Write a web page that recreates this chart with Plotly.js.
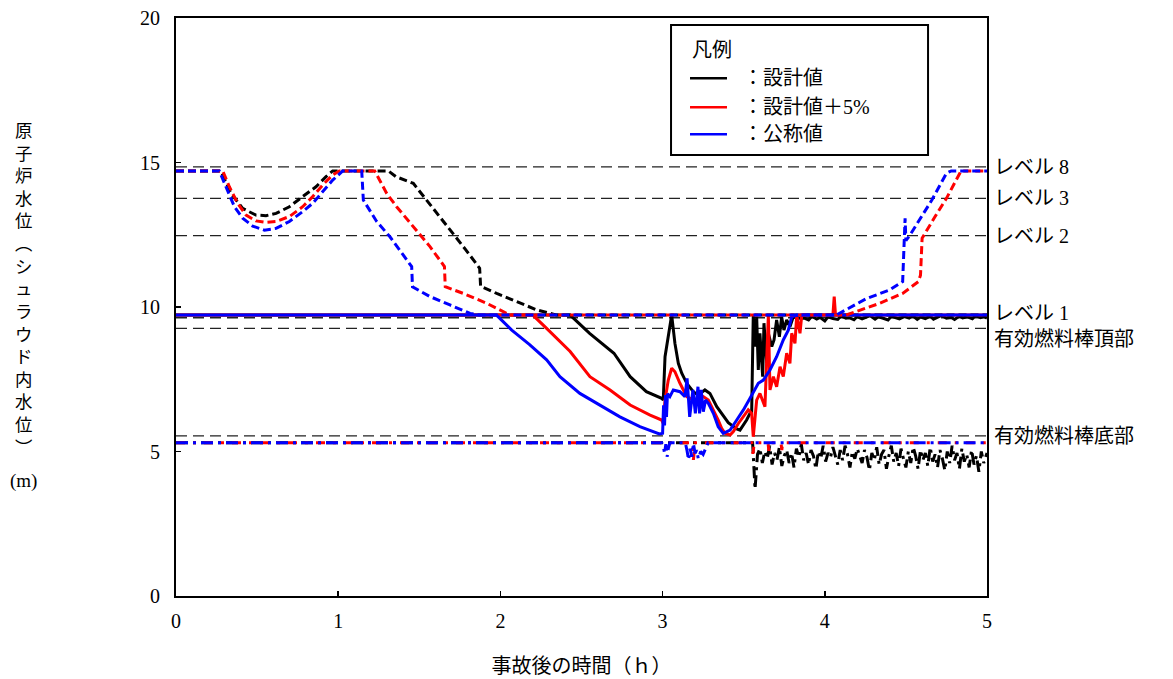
<!DOCTYPE html>
<html>
<head>
<meta charset="utf-8">
<script src="https://cdn.plot.ly/plotly-3.0.1.min.js"></script>
<style>
html, body { margin: 0; padding: 0; background: #ffffff; }
#chart { width: 1173px; height: 679px; }
</style>
</head>
<body>
<div id="chart"></div>
<script>
// ---- Case names and colours ----
const caseNames = ["：設計値", "：設計値＋5%", "：公称値"];
const caseColors = ["#000000", "#ff0000", "#0000ff"];

// ---- Shroud water level (solid lines), time in h, level in m ----
const designShroudT = [0, 2.43, 2.55, 2.70, 2.80, 2.90, 2.994, 3.004, 3.015, 3.056,
  3.076, 3.097, 3.118, 3.149, 3.189, 3.22, 3.261, 3.292, 3.334, 3.374,
  3.405, 3.457, 3.477, 3.518, 3.539, 3.549, 3.555, 3.559, 3.570, 3.580,
  3.590, 3.600, 3.617, 3.625, 3.642, 3.652, 3.673, 3.687, 3.703, 3.720,
  3.734, 3.748, 3.765, 3.785, 3.806, 3.847, 3.87, 3.90, 3.92, 3.95,
  3.97, 4.00, 4.02, 4.05, 4.08, 4.10, 4.13, 4.15, 4.18, 4.20,
  4.23, 4.26, 4.28, 4.31, 4.33, 4.36, 4.39, 4.41, 4.44, 4.46,
  4.49, 4.52, 4.54, 4.57, 4.59, 4.62, 4.65, 4.67, 4.70, 4.72,
  4.75, 4.78, 4.80, 4.83, 4.85, 4.88, 4.91, 4.93, 4.96, 4.98, 5.00];
const designShroudV = [9.72, 9.72, 9.09, 8.40, 7.59, 7.07, 6.84, 6.78, 8.28, 9.72,
  8.74, 8.05, 7.71, 7.36, 7.07, 6.95, 7.13, 7.01, 6.55, 6.26,
  6.00, 5.78, 5.74, 6.09, 6.32, 6.32, 8.17, 9.72, 8.63, 9.66,
  7.82, 9.09, 7.59, 9.44, 8.05, 9.09, 8.63, 8.86, 9.55, 8.97,
  9.66, 9.20, 9.55, 9.32, 9.66, 9.61, 9.62, 9.55, 9.68, 9.58,
  9.64, 9.52, 9.66, 9.60, 9.57, 9.69, 9.61, 9.63, 9.56, 9.67,
  9.59, 9.64, 9.70, 9.58, 9.66, 9.61, 9.55, 9.68, 9.63, 9.59,
  9.67, 9.62, 9.70, 9.57, 9.65, 9.60, 9.68, 9.58, 9.66, 9.71,
  9.61, 9.64, 9.57, 9.69, 9.62, 9.66, 9.59, 9.70, 9.63, 9.67, 9.61];

const design5ShroudT = [0, 2.20, 2.296, 2.43, 2.552, 2.676, 2.80, 2.923, 2.994, 3.004,
  3.015, 3.035, 3.056, 3.076, 3.107, 3.149, 3.189, 3.251, 3.282, 3.313,
  3.343, 3.364, 3.385, 3.416, 3.436, 3.467, 3.498, 3.528, 3.549, 3.559,
  3.580, 3.600, 3.631, 3.652, 3.662, 3.683, 3.703, 3.724, 3.744, 3.765,
  3.785, 3.796, 3.816, 3.827, 3.847, 3.858, 4.050, 4.058, 4.066, 5.00];
const design5ShroudV = [9.72, 9.72, 9.20, 8.46, 7.59, 7.13, 6.61, 6.26, 6.09, 5.97,
  6.78, 7.47, 7.88, 7.76, 7.36, 6.90, 6.78, 6.90, 6.78, 6.44,
  6.09, 5.80, 5.63, 5.57, 5.69, 5.97, 6.20, 6.44, 6.32, 5.51,
  6.78, 7.01, 6.55, 9.72, 7.13, 7.59, 7.24, 7.93, 7.59, 8.40,
  8.05, 9.09, 8.74, 9.72, 9.09, 9.72, 9.72, 10.36, 9.72, 9.72];

const nominalShroudT = [0, 1.976, 2.07, 2.18, 2.285, 2.367, 2.49, 2.614, 2.737, 2.86,
  2.98, 3.0, 3.006, 3.012, 3.018, 3.024, 3.03, 3.045, 3.066, 3.107,
  3.138, 3.151, 3.167, 3.187, 3.202, 3.218, 3.228, 3.238, 3.251, 3.265,
  3.282, 3.313, 3.343, 3.374, 3.416, 3.457, 3.498, 3.539, 3.59, 3.621,
  3.662, 3.703, 3.744, 3.775, 3.796, 3.83, 5.0];
const nominalShroudV = [9.72, 9.72, 9.20, 8.70, 8.17, 7.59, 7.01, 6.61, 6.20, 5.86,
  5.61, 5.63, 6.60, 5.90, 6.95, 6.20, 7.00, 6.90, 7.13, 7.07,
  6.90, 7.53, 6.20, 7.13, 6.32, 7.24, 6.32, 7.13, 6.38, 6.78,
  6.67, 6.32, 5.86, 5.63, 5.74, 6.09, 6.44, 6.84, 7.36, 7.47,
  7.82, 8.28, 8.86, 9.20, 9.66, 9.72, 9.72];

// ---- Reactor water level (dashed lines) ----
const designWideT = [0, 0.277, 0.339, 0.411, 0.493, 0.555, 0.617, 0.699, 0.781, 0.863,
  0.925, 0.966, 1.309, 1.356, 1.463, 1.546, 1.623, 1.72, 1.788, 1.872,
  1.878, 1.977, 2.10, 2.224, 2.347, 5.0];
const designWideV = [14.71, 14.71, 13.93, 13.41, 13.18, 13.16, 13.24, 13.47, 13.82, 14.16,
  14.51, 14.71, 14.71, 14.51, 14.28, 13.70, 13.13, 12.47, 11.97, 11.34,
  10.72, 10.47, 10.19, 9.90, 9.72, 9.72];

const design5WideT = [0, 0.288, 0.329, 0.380, 0.432, 0.493, 0.555, 0.617, 0.699, 0.781,
  0.843, 0.904, 0.966, 1.007, 1.225, 1.299, 1.36, 1.484, 1.566, 1.655,
  1.66, 1.771, 1.915, 2.039, 2.07, 4.13, 4.217, 4.34, 4.48, 4.577,
  4.59, 4.60, 4.68, 4.75, 4.84, 5.0];
const design5WideV = [14.71, 14.71, 14.16, 13.59, 13.18, 12.98, 12.93, 12.96, 13.13, 13.47,
  13.82, 14.22, 14.57, 14.71, 14.71, 13.93, 13.47, 12.66, 12.09, 11.40,
  10.70, 10.47, 10.13, 9.78, 9.72, 9.72, 9.90, 10.13, 10.47, 10.88,
  11.10, 12.38, 13.13, 13.76, 14.71, 14.71];

const nominalWideT = [0, 0.267, 0.308, 0.360, 0.411, 0.473, 0.545, 0.617, 0.699, 0.781,
  0.843, 0.904, 0.966, 1.028, 1.145, 1.155, 1.237, 1.319, 1.391, 1.453,
  1.458, 1.566, 1.689, 1.813, 1.87, 4.07, 4.26, 4.40, 4.48, 4.49,
  4.495, 4.50, 4.525, 4.66, 4.75, 4.78, 5.0];
const nominalWideV = [14.71, 14.71, 14.16, 13.47, 13.07, 12.80, 12.66, 12.72, 12.96, 13.30,
  13.59, 13.99, 14.39, 14.71, 14.71, 13.70, 12.96, 12.43, 11.86, 11.40,
  10.70, 10.36, 10.07, 9.78, 9.72, 9.72, 10.30, 10.59, 10.88, 12.43,
  13.07, 12.30, 12.49, 13.70, 14.63, 14.71, 14.71];

// ---- Lower-range level (dash-dot lines) ----
const designLowerT = [0, 3.54, 3.555, 3.57, 3.585, 3.60, 3.615, 3.63, 3.645, 3.66,
  3.675, 3.69, 3.705, 3.72, 3.735, 3.75, 3.765, 3.78, 3.795, 3.81,
  3.825, 3.84, 3.855, 3.87, 3.885, 3.90, 3.915, 3.93, 3.945, 3.96,
  3.975, 3.99, 4.005, 4.02, 4.035, 4.05, 4.065, 4.08, 4.095, 4.11,
  4.125, 4.14, 4.155, 4.17, 4.185, 4.20, 4.215, 4.23, 4.245, 4.26,
  4.275, 4.29, 4.305, 4.32, 4.335, 4.35, 4.365, 4.38, 4.395, 4.41,
  4.425, 4.44, 4.455, 4.47, 4.485, 4.50, 4.515, 4.53, 4.545, 4.56,
  4.575, 4.59, 4.605, 4.62, 4.635, 4.65, 4.665, 4.68, 4.695, 4.71,
  4.725, 4.74, 4.755, 4.77, 4.785, 4.80, 4.815, 4.83, 4.845, 4.86,
  4.875, 4.89, 4.905, 4.92, 4.935, 4.95, 4.965, 4.98, 5.0];
const designLowerV = [5.30, 5.30, 5.30, 3.70, 4.90, 5.10, 4.60, 5.00, 4.75, 5.20,
  4.55, 4.95, 4.70, 5.15, 4.50, 4.85, 5.05, 4.60, 4.95, 4.45,
  5.10, 4.80, 5.25, 4.70, 4.95, 4.55, 5.05, 4.85, 4.40, 5.00,
  4.75, 5.20, 4.65, 4.95, 4.80, 5.15, 4.85, 4.55, 5.05, 4.70,
  5.20, 4.90, 4.45, 5.00, 4.75, 5.10, 4.85, 4.60, 5.05, 4.80,
  4.35, 4.95, 4.70, 5.15, 4.55, 4.90, 5.05, 4.40, 4.85, 5.20,
  4.65, 4.95, 4.50, 5.10, 4.75, 4.45, 5.00, 4.60, 5.15, 4.85,
  4.40, 5.05, 4.70, 4.95, 4.50, 5.15, 4.65, 4.90, 4.45, 5.05,
  4.75, 4.35, 5.00, 4.60, 5.20, 4.70, 4.95, 4.40, 5.10, 4.65,
  4.90, 4.45, 5.05, 4.55, 4.85, 4.30, 5.00, 4.60, 4.95];

const design5LowerT = [0, 3.18, 3.19, 3.20, 3.55, 3.557, 3.565, 3.65, 3.655, 3.66,
  3.73, 3.735, 3.74, 5.0];
const design5LowerV = [5.30, 5.30, 4.71, 5.30, 5.30, 4.92, 5.30, 5.30, 5.02, 5.30,
  5.30, 5.05, 5.30, 5.30];

const nominalLowerT = [0, 2.995, 3.005, 3.012, 3.02, 3.028, 3.035, 3.045, 3.06, 3.14,
  3.15, 3.16, 3.17, 3.18, 3.19, 3.20, 3.21, 3.22, 3.235, 3.25,
  3.265, 3.28, 5.0];
const nominalLowerV = [5.30, 5.30, 5.17, 4.94, 5.25, 4.82, 5.10, 5.30, 5.30, 5.30,
  5.05, 4.71, 5.10, 4.82, 5.28, 4.94, 5.05, 4.75, 5.00, 4.90,
  5.10, 5.30, 5.30];

// ---- Reference levels ----
const levelValues = [14.85, 13.76, 12.47, 9.63, 9.26, 5.54];
const levelLabels = ["レベル 8", "レベル 3", "レベル 2", "レベル 1", "有効燃料棒頂部", "有効燃料棒底部"];
const levelLabelShift = [0, 0, 0, 5, -11, 0];

// ---- Axis ticks and titles ----
const xTickVals = [0, 1, 2, 3, 4, 5];
const yTickVals = [0, 5, 10, 15, 20];
const xTitle = "事故後の時間（ｈ）";
const yTitle = "原子炉水位︵シュラウド内水位︶";
const yUnit = "(m)";
const legendTitle = "凡例";

const serif = "'Liberation Serif', 'Noto Sans CJK JP', serif";
const cjk = "'Noto Sans CJK JP', 'Liberation Serif', sans-serif";

const DASHED = "8px,4px";
const DASHDOT_A = "12px,5px,3px,5px";
const DASHDOT_B = "9px,8px,3px,8px";

function line(t, v, color, dash) {
  return {
    type: "scatter", mode: "lines", x: t, y: v,
    line: { color: color, width: 3, dash: dash },
    hoverinfo: "skip", showlegend: false
  };
}

const traces = [
  line(designShroudT, designShroudV, caseColors[0], "solid"),
  line(design5ShroudT, design5ShroudV, caseColors[1], "solid"),
  line(designWideT, designWideV, caseColors[0], DASHED),
  line(nominalShroudT, nominalShroudV, caseColors[2], "solid"),
  line(design5WideT, design5WideV, caseColors[1], DASHED),
  line(nominalWideT, nominalWideV, caseColors[2], DASHED),
  line(designLowerT, designLowerV, caseColors[0], DASHDOT_A),
  line(design5LowerT, design5LowerV, caseColors[1], DASHDOT_B),
  line(nominalLowerT, nominalLowerV, caseColors[2], DASHDOT_A)
];

// Reference level lines and their labels at the right edge
const shapes = levelValues.map(v => ({
  type: "line", xref: "paper", yref: "y", x0: 0, x1: 1, y0: v, y1: v,
  line: { color: "#222", width: 1.4, dash: "11px,6px" }, layer: "below"
}));
const annotations = levelValues.map((v, i) => ({
  xref: "paper", yref: "y", x: 1, y: v, xanchor: "left", yanchor: "middle",
  xshift: 5, yshift: levelLabelShift[i], showarrow: false,
  text: levelLabels[i], font: { family: serif, size: 20, color: "#000" }
}));

// Legend box (paper coordinates of the plot area)
shapes.push({
  type: "rect", xref: "paper", yref: "paper", x0: 0.6104, x1: 0.9273, y0: 0.763, y1: 0.9879,
  line: { color: "#000", width: 2 }, fillcolor: "#ffffff", layer: "above"
});
annotations.push({
  xref: "paper", yref: "paper", x: 0.634, y: 0.9464, xanchor: "left", yanchor: "middle",
  showarrow: false, text: legendTitle, font: { family: cjk, size: 20, color: "#000" }
});
const legendRows = [0.8957, 0.8455, 0.7988];
caseNames.forEach((name, i) => {
  shapes.push({
    type: "line", xref: "paper", yref: "paper", x0: 0.6338, x1: 0.6794,
    y0: legendRows[i], y1: legendRows[i],
    line: { color: caseColors[i], width: 2.5 }, layer: "above"
  });
  annotations.push({
    xref: "paper", yref: "paper", x: 0.697, y: legendRows[i], xanchor: "left", yanchor: "middle",
    showarrow: false, text: name, font: { family: serif, size: 20, color: "#000" }
  });
});

// Vertical y-axis title: one character per line in a single text block
annotations.push({
  xref: "paper", yref: "paper", x: 0, y: (596 - 288) / 578, xshift: -153,
  xanchor: "center", yanchor: "middle", showarrow: false, align: "center",
  text: Array.from(yTitle).join("<br>"),
  font: { family: cjk, size: 17.4, color: "#000" }
});
annotations.push({
  xref: "paper", yref: "paper", x: 0, y: (596 - 481) / 578, xshift: -153,
  xanchor: "center", yanchor: "middle", showarrow: false,
  text: yUnit, font: { family: serif, size: 19, color: "#000" }
});

const axisBase = {
  showline: true, mirror: true, linecolor: "#000", linewidth: 2,
  showgrid: false, zeroline: false, ticks: "inside", ticklen: 5, tickwidth: 1.5,
  tickcolor: "#000", automargin: false, fixedrange: true,
  tickfont: { family: serif, size: 20, color: "#000" }
};

const layout = {
  width: 1173, height: 679,
  margin: { l: 176, r: 186, t: 18, b: 83 },
  paper_bgcolor: "#ffffff", plot_bgcolor: "#ffffff",
  showlegend: false,
  xaxis: Object.assign({}, axisBase, {
    range: [0, 5], tickvals: xTickVals, ticklabelstandoff: 6,
    title: { text: xTitle, font: { family: cjk, size: 20, color: "#000" }, standoff: 29 }
  }),
  yaxis: Object.assign({}, axisBase, {
    range: [0, 20], tickvals: yTickVals, ticklabelstandoff: 10
  }),
  shapes: shapes,
  annotations: annotations
};

Plotly.newPlot("chart", traces, layout, { staticPlot: true, displayModeBar: false });
</script>
</body>
</html>
